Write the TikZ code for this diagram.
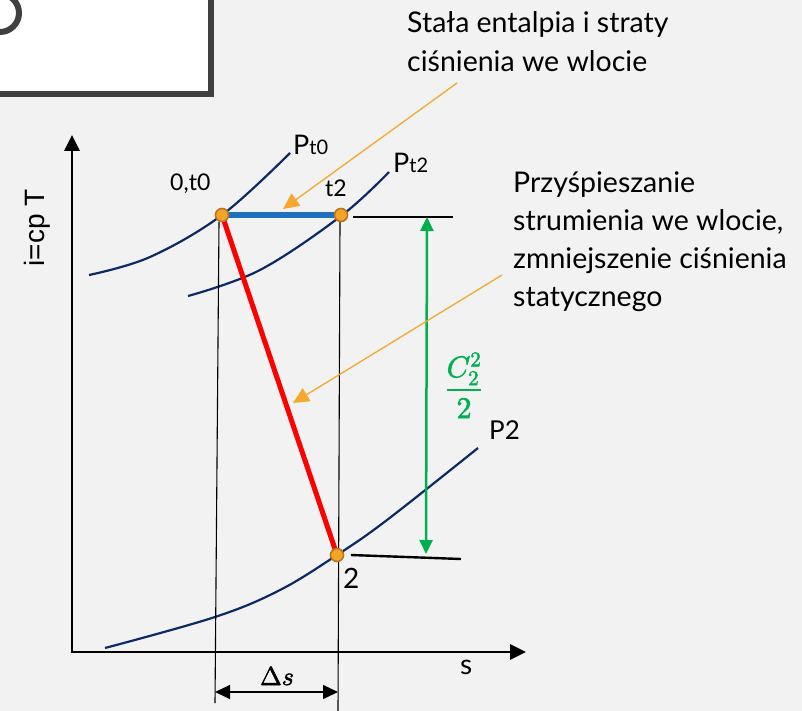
\documentclass[tikz,border=0pt]{standalone}
\usepackage{fontspec}
\usepackage{unicode-math}
\setmathfont{Latin Modern Math}[FakeBold=2]
\setmainfont{Lato}
\newfontfamily\arialf{Liberation Sans}
\usetikzlibrary{arrows.meta}
\definecolor{bg}{HTML}{F2F2F2}
\definecolor{navy}{HTML}{0B2A66}
\definecolor{boxgray}{HTML}{404040}
\definecolor{dotfill}{HTML}{F4A428}
\definecolor{dotline}{HTML}{B8761C}
\definecolor{orng}{HTML}{F5A82C}
\definecolor{grn}{HTML}{00B050}
\definecolor{blu}{HTML}{1F6FC0}
\tikzset{
  isobar/.style={navy, line width=2.2pt},
  thinv/.style={black, line width=1.1pt},
  tick/.style={black, line width=2.4pt},
  dot/.style={circle, fill=dotfill, draw=dotline, line width=1.6pt, minimum size=13pt, inner sep=0pt},
  pointer/.style={orng, line width=1.3pt, -{Triangle[length=16pt,width=15pt]}},
  bigtxt/.style={font=\fontsize{28.5}{28.5}\selectfont, text=black, inner sep=0pt},
  lbl/.style={font=\fontsize{23}{23}\selectfont, text=black, inner sep=0pt},
  lblbig/.style={font=\fontsize{28}{28}\selectfont, text=black, inner sep=0pt},
}
\begin{document}
\begin{tikzpicture}[x=1pt,y=-1pt]
\useasboundingbox (0,0) rectangle (802,711);
\fill[bg] (0,0) rectangle (802,711);
% top-left box
\begin{scope}
\clip (0,0) rectangle (802,711);
\draw[fill=white, draw=boxgray, line width=6pt] (-20,-20) rectangle (210.5,94);
\clip (0,0) rectangle (207,91);
\draw[boxgray, line width=6pt] (0,13) circle[radius=19pt];
\end{scope}
% axes
\coordinate (O) at (72,652);
\coordinate (ytip) at (72,135);
\coordinate (xtip) at (526,652);
\draw[line width=2.8pt, {Triangle[length=16pt,width=15pt]}-{Triangle[length=16pt,width=15pt]}] (ytip) -- (O) -- (xtip);
\node[font=\arialf\fontsize{28}{28}\selectfont, rotate=90, inner sep=0pt] (ylab) at (37,228) {i=cp T};
% isobars
\draw[isobar] plot[smooth, tension=0.6] coordinates {(89,275) (150,257) (222,215) (290,153)};
\draw[isobar] plot[smooth, tension=0.6] coordinates {(188,296) (260,270) (341,216) (389,172)};
\draw[isobar] plot[smooth, tension=0.6] coordinates {(105,648) (215,617) (280,590) (337,555) (387,520) (478,448)};
% points
\coordinate (p0) at (222,215);
\coordinate (pt2) at (341,215);
\coordinate (p2) at (337,555);
% thin verticals
\coordinate (v1a) at (219,222); \coordinate (v1b) at (215,703);
\coordinate (v2a) at (340,222); \coordinate (v2b) at (338,711);
\draw[thinv] (v1a) -- (v1b);
\draw[thinv] (v2a) -- (v2b);
% ticks
\coordinate (h1a) at (353,217); \coordinate (h1b) at (453,217);
\coordinate (h2a) at (351,555); \coordinate (h2b) at (461,559);
\draw[tick] (h1a) -- (h1b);
\draw[tick] (h2a) -- (h2b);
% process lines
\draw[blu, line width=5.5pt] (p0) -- (pt2);
\draw[red, line width=5pt] (p0) -- (p2);
\node[dot] (d0) at (p0) {};
\node[dot] (dt2) at (pt2) {};
\node[dot] (d2) at (p2) {};
% green arrow
\coordinate (g1) at (427,217); \coordinate (g2) at (426,554);
\draw[grn, line width=2.5pt, {Triangle[length=14pt,width=13pt]}-{Triangle[length=14pt,width=13pt]}] (g1) -- (g2);
\node[text=grn, inner sep=0pt, anchor=base, font=\fontsize{30}{30}\selectfont] (frac) at (464,397.5) {$\displaystyle\frac{C_2^2}{2}$};
% delta s arrow
\coordinate (ds1) at (215,692); \coordinate (ds2) at (338,692);
\draw[line width=1.3pt, {Triangle[length=15pt,width=14pt]}-{Triangle[length=15pt,width=14pt]}] (ds1) -- (ds2);
\node[anchor=base, inner sep=0pt, font=\fontsize{26}{26}\selectfont] (dslab) at (277,685) {$\Delta s$};
% labels
\node[lbl, anchor=base west] (lpt0) at (293,155) {{\fontsize{27}{27}\selectfont P}{\fontsize{20}{20}\selectfont t0}};
\node[lbl, anchor=base west] (lpt2) at (393,173) {{\fontsize{27}{27}\selectfont P}{\fontsize{20}{20}\selectfont t2}};
\node[lbl, anchor=base west] (l0) at (170,191) {0,t0};
\node[lbl, anchor=base west] (lt2) at (325,197) {t2};
\node[lblbig, anchor=base west] (l2) at (343,588) {2};
\node[font=\fontsize{26}{26}\selectfont, inner sep=0pt, anchor=base west] (lp2) at (489,439) {P2};
\node[lblbig, anchor=base west] (ls) at (460,674) {s};
% annotations
\node[bigtxt, anchor=base west] (a1) at (407,33) {Stała entalpia i straty};
\node[bigtxt, anchor=base west] (a2) at (407,72) {ciśnienia we wlocie};
\node[bigtxt, anchor=base west] (b1) at (513,193) {Przyśpieszanie};
\node[bigtxt, anchor=base west] (b2) at (513,230) {strumienia we wlocie,};
\node[bigtxt, anchor=base west] (b3) at (513,268) {zmniejszenie ciśnienia};
\node[bigtxt, anchor=base west] (b4) at (513,306) {statycznego};
\coordinate (o1s) at (457,83); \coordinate (o1e) at (283,209);
\coordinate (o2s) at (502,275); \coordinate (o2e) at (293,403);
\draw[pointer] (o1s) -- (o1e);
\draw[pointer] (o2s) -- (o2e);
\end{tikzpicture}
\end{document}
